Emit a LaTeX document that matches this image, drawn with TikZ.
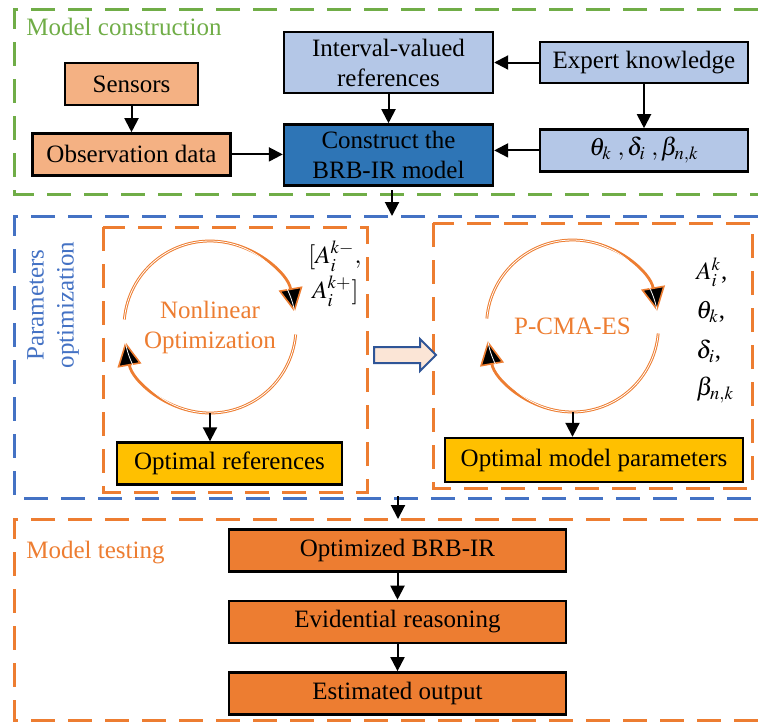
\documentclass[tikz,border=0pt]{standalone}
\usepackage{mathptmx}
\usepackage{fontspec}
\setmainfont{Liberation Serif}
\usepackage{tikz}
\usetikzlibrary{positioning,arrows.meta,shapes.arrows}

\definecolor{grn}{HTML}{70AD47}
\definecolor{blu}{HTML}{4472C4}
\definecolor{org}{HTML}{ED7D31}
\definecolor{salmon}{HTML}{F4B183}
\definecolor{lblue}{HTML}{B4C7E7}
\definecolor{dblue}{HTML}{2E75B6}
\definecolor{gold}{HTML}{FFC000}
\definecolor{peach}{HTML}{FBE5D6}
\definecolor{navy}{HTML}{2F5597}

\tikzset{
    box/.style={draw=black, line width=1.2pt, inner sep=0pt, align=center},
    srcbox/.style={box, fill=salmon, minimum height=21pt},
    refbox/.style={box, fill=lblue},
    conbox/.style={box, fill=dblue},
    optbox/.style={box, fill=gold, minimum height=21pt},
    testbox/.style={box, fill=org, minimum width=168.5pt, minimum height=21pt},
    frame/.style={line width=1.5pt, dash pattern=on 12pt off 6.5pt},
    flow/.style={-{Triangle[length=7pt,width=7pt]}, line width=1pt},
    loop/.style={draw=org, line width=1.4pt,
        -{Triangle[fill=black,length=12pt,width=12pt,line width=0.8pt]},
        postaction={draw=white, line width=0.4pt, -}},
    title/.style={inner sep=0pt},
    sym/.style={inner sep=0pt, anchor=west}
}

\begin{document}
\begin{tikzpicture}[x=0.5pt, y=-0.5pt,
        every node/.style={font=\fontsize{12.5}{15}\selectfont}]
    \useasboundingbox (0,0) rectangle (758,724);

    % frames
    \draw[frame, grn] (758,9) -| (14,194) -- (758,194);
    \draw[frame, blu] (758,216) -| (14,498) -- (758,498);
    \draw[frame, org] (758,519) -| (14,720) -- (758,720);
    \draw[frame, org] (103,227) rectangle (367,492);
    \draw[frame, org] (433,223) rectangle (752,488);

    \node[title, grn, anchor=west] (mctitle) at (26,27) {Model construction};
    \node[title, blu, rotate=90, align=center] (potitle) at (53,305) {Parameters\\optimization};
    \node[title, org, anchor=west] (mttitle) at (26,553) {Model testing};

    % model construction
    \node[srcbox, minimum width=66.5pt] (sens) at (131.5,84) {Sensors};
    \node[srcbox, minimum width=99pt, below=13pt of sens] (obs) {Observation data};
    \node[refbox, minimum width=104.5pt, minimum height=30.5pt] (intv) at (388.5,62.5)
        {Interval-valued\\references};
    \node[conbox, minimum width=104.5pt, minimum height=30.5pt, below=14.5pt of intv] (cons)
        {Construct the\\BRB-IR model};
    \node[refbox, minimum width=104pt, minimum height=20.5pt] (expk) at (644,62.5)
        {Expert knowledge};
    \node[refbox, minimum width=104pt, minimum height=21pt, below=22pt of expk] (para)
        {$\theta_{k}\;,\delta_{i}\;,\beta_{n,k}$};

    \draw[flow] (sens) -- (obs);
    \draw[flow] (obs) -- (obs -| cons.west);
    \draw[flow] (intv) -- (cons);
    \draw[flow] (expk) -- (intv);
    \draw[flow] (expk) -- (para);
    \draw[flow] (para) -- (para -| cons.east);

    \coordinate (mcout) at (392,190);
    \coordinate (poin) at (392,216);
    \draw[flow] (mcout) -- (poin);

    % parameters optimization
    \node[circle, minimum size=86pt, inner sep=0pt, org, align=center] (nlo) at (210,327)
        {Nonlinear\\Optimization};
    \draw[loop] ([shift={(175:43pt)}]nlo.center) arc[start angle=175, end angle=10, radius=43pt];
    \draw[loop] ([shift={(-5:43pt)}]nlo.center) arc[start angle=-5, end angle=-170, radius=43pt];
    \node[sym] (alo) at (308,256) {$[A_i^{k-},$};
    \node[sym] (ahi) at (312,291) {$A_i^{k+}]$};
    \node[optbox, minimum width=112.5pt] (oref) at (229.5,463.5) {Optimal references};
    \draw[flow] (nlo.south) -- (nlo.south |- oref.north);

    \node[single arrow, draw=navy, fill=peach, line width=1pt, inner xsep=0pt, inner ysep=3.5pt,
        minimum height=31pt, minimum width=15pt, single arrow head extend=4pt] (shift) at (401,355) {};

    \node[circle, minimum size=86pt, inner sep=0pt, org] (pcma) at (572.5,326) {P-CMA-ES};
    \draw[loop] ([shift={(175:43pt)}]pcma.center) arc[start angle=175, end angle=10, radius=43pt];
    \draw[loop] ([shift={(-5:43pt)}]pcma.center) arc[start angle=-5, end angle=-170, radius=43pt];
    \node[sym] (sa) at (696,272) {$A_i^k$,};
    \node[sym] (sth) at (696,312) {$\theta_k$,};
    \node[sym] (sde) at (696,351) {$\delta_i$,};
    \node[sym] (sbe) at (696,390) {$\beta_{n,k}$};
    \node[optbox, minimum width=149pt, minimum height=22pt] (omp) at (594,460) {Optimal model parameters};
    \draw[flow] (pcma.south) -- (pcma.south |- omp.north);

    \coordinate (poout) at (398,496);
    \coordinate (mtin) at (398,519);
    \draw[flow] (poout) -- (mtin);

    % model testing
    \node[testbox] (obrb) at (397.5,550.5) {Optimized BRB-IR};
    \node[testbox, below=13.5pt of obrb] (evr) {Evidential reasoning};
    \node[testbox, below=13.5pt of evr] (est) {Estimated output};
    \draw[flow] (obrb) -- (evr);
    \draw[flow] (evr) -- (est);
\end{tikzpicture}
\end{document}
